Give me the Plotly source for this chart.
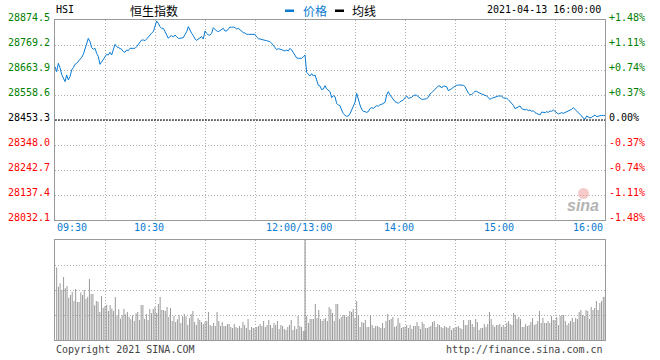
import numpy as np
import pandas as pd
import plotly.graph_objects as go

# ---------------- data ----------------
prev_close = 28453.3
y_ticks = [28874.5, 28769.2, 28663.9, 28558.6, 28453.3, 28348.0, 28242.7, 28137.4, 28032.1]
pct_ticks = ["+1.48%", "+1.11%", "+0.74%", "+0.37%", "0.00%", "-0.37%", "-0.74%", "-1.11%", "-1.48%"]
x_tick_labels = ["09:30", "10:30", "12:00/13:00", "14:00", "15:00", "16:00"]
x_tick_times = [0, 60, 150, 210, 270, 330]   # trading minutes since open

# morning price, 09:30 .. 12:00 (one per minute)
price_am = [
    28678.0, 28656.9, 28692.0, 28673.8, 28645.7, 28626.0, 28614.8, 28642.9, 28621.8, 28635.9,
    28663.9, 28673.8, 28687.8, 28692.0, 28699.0, 28710.3, 28717.3, 28729.9, 28755.2, 28769.2,
    28797.3, 28783.3, 28758.0, 28751.0, 28755.2, 28734.1, 28720.1, 28687.8, 28699.0, 28713.1,
    28724.3, 28729.9, 28727.1, 28738.4, 28727.1, 28755.2, 28772.1, 28762.2, 28759.4, 28755.2,
    28751.0, 28741.2, 28738.4, 28748.2, 28745.4, 28755.2, 28755.2, 28753.8, 28755.2, 28762.2,
    28772.1, 28780.5, 28790.3, 28790.3, 28787.5, 28794.5, 28804.3, 28814.1, 28819.7, 28825.4,
    28853.4, 28870.3, 28860.5, 28846.4, 28839.4, 28839.4, 28825.4, 28811.3, 28797.3, 28805.7,
    28808.5, 28802.9, 28811.3, 28804.3, 28797.3, 28797.3, 28797.3, 28800.1, 28814.1, 28825.4,
    28846.4, 28828.2, 28818.3, 28808.5, 28794.5, 28788.9, 28794.5, 28797.3, 28804.3, 28794.5,
    28828.2, 28818.3, 28811.3, 28811.3, 28818.3, 28842.2, 28833.8, 28828.2, 28825.4, 28829.6,
    28833.8, 28839.4, 28828.2, 28828.2, 28836.6, 28845.0, 28843.6, 28845.0, 28842.2, 28836.6,
    28839.4, 28832.4, 28825.4, 28821.2, 28819.7, 28814.1, 28814.1, 28814.1, 28814.1, 28811.3,
    28814.1, 28802.9, 28795.9, 28794.5, 28791.7, 28790.3, 28788.9, 28787.5, 28784.7, 28783.3,
    28776.3, 28766.4, 28755.2, 28749.6, 28753.8, 28752.4, 28751.0, 28746.8, 28744.0, 28748.2,
    28744.0, 28755.2, 28748.2, 28735.5, 28724.3, 28714.5, 28713.1, 28713.1, 28713.1, 28720.1,
    28727.1,
]
# afternoon price, 13:01 .. 16:00 (one per minute)
price_pm = [
    28654.1, 28645.7, 28638.7, 28648.5, 28638.7, 28642.9, 28614.8, 28599.4, 28596.6, 28581.1,
    28583.9, 28598.0, 28583.9, 28579.7, 28572.7, 28547.4, 28555.8, 28551.6, 28523.5, 28516.5,
    28513.7, 28495.5, 28480.0, 28473.0, 28468.8, 28470.2, 28480.0, 28495.5, 28509.5, 28527.8,
    28565.7, 28537.6, 28516.5, 28498.3, 28489.8, 28488.4, 28485.6, 28488.4, 28501.1, 28505.3,
    28502.5, 28508.1, 28513.7, 28510.9, 28517.9, 28519.3, 28522.1, 28527.8, 28558.6, 28572.7,
    28558.6, 28547.4, 28537.6, 28530.6, 28527.8, 28523.5, 28530.6, 28533.4, 28537.6, 28547.4,
    28554.4, 28544.6, 28547.4, 28548.8, 28555.8, 28558.6, 28557.2, 28551.6, 28544.6, 28540.4,
    28540.4, 28541.8, 28543.2, 28548.8, 28562.9, 28568.5, 28575.5, 28583.9, 28589.5, 28596.6,
    28596.6, 28588.1, 28596.6, 28595.1, 28593.7, 28576.9, 28579.7, 28585.3, 28590.9, 28596.6,
    28599.4, 28600.8, 28599.4, 28599.4, 28599.4, 28593.7, 28579.7, 28565.7, 28560.0, 28560.0,
    28567.1, 28574.1, 28574.1, 28568.5, 28565.7, 28562.9, 28558.6, 28557.2, 28554.4, 28548.8,
    28540.4, 28544.6, 28547.4, 28551.6, 28551.6, 28554.4, 28554.4, 28554.4, 28546.0, 28544.6,
    28544.6, 28539.0, 28532.0, 28523.5, 28515.1, 28501.1, 28505.3, 28509.5, 28512.3, 28501.1,
    28498.3, 28495.5, 28498.3, 28492.7, 28495.5, 28489.8, 28492.7, 28484.2, 28481.4, 28478.6,
    28474.4, 28487.0, 28484.2, 28484.2, 28488.4, 28485.6, 28491.3, 28489.8, 28495.5, 28488.4,
    28481.4, 28478.6, 28481.4, 28484.2, 28481.4, 28484.2, 28488.4, 28492.7, 28495.5, 28498.3,
    28505.3, 28498.3, 28494.1, 28488.4, 28480.0, 28470.2, 28460.4, 28456.2, 28470.2, 28466.0,
    28461.8, 28464.6, 28470.2, 28474.4, 28467.4, 28470.2, 28473.0, 28473.0, 28471.6, 28473.0,
]

# volume (relative units)
vol_am = [
    2.9, 2.13, 2.27, 2.0, 2.52, 2.07, 2.16, 1.69, 1.8, 1.93, 1.56, 2.04, 1.52, 1.52, 1.9, 1.8,
    2.0, 1.65, 1.73, 2.44, 1.84, 1.84, 1.39, 1.56, 1.53, 1.12, 1.76, 1.29, 1.36, 1.41, 1.16,
    1.4, 1.25, 1.16, 1.72, 0.99, 1.23, 0.85, 0.99, 1.25, 1.03, 1.12, 0.93, 0.83, 0.99, 0.76,
    1.07, 1.12, 0.8, 1.4, 1.4, 0.84, 1.04, 0.8, 1.24, 1.07, 1.24, 1.32, 1.08, 1.44, 1.72, 1.2,
    1.2, 1.16, 1.32, 0.92, 1.28, 0.76, 0.96, 0.72, 0.83, 0.99, 0.68, 0.95, 1.04, 0.95, 0.6,
    0.87, 1.03, 1.16, 0.72, 0.6, 0.88, 0.8, 0.72, 0.64, 0.72, 0.76, 1.12, 0.6, 0.56, 0.68,
    0.56, 1.12, 0.76, 0.56, 0.72, 0.56, 0.56, 0.64, 0.64, 0.52, 0.48, 0.64, 0.52, 0.48, 0.56,
    0.48, 0.72, 0.6, 0.48, 0.84, 0.4, 0.52, 0.48, 0.48, 0.52, 0.56, 0.64, 0.56, 0.76, 0.52,
    0.6, 0.8, 0.6, 0.48, 0.68, 0.6, 0.76, 0.44, 0.6, 0.56, 0.44, 0.4, 0.52, 0.6, 0.8, 0.4,
    0.56, 0.44, 0.96, 0.56, 0.52, 0.36, 0.36,
]
vol_pm = [
    0.96, 0.68, 0.84, 0.84, 0.84, 1.44, 0.88, 1.2, 0.84, 0.76, 0.84, 0.88, 0.76, 1.32, 1.24,
    1.08, 0.76, 1.44, 1.44, 0.84, 0.92, 1.0, 1.0, 0.92, 0.96, 1.16, 1.12, 1.24, 0.88, 1.56,
    1.0, 0.52, 0.72, 0.68, 0.8, 0.52, 0.52, 1.0, 0.6, 0.48, 0.56, 0.56, 0.52, 0.48, 0.68,
    0.48, 0.76, 1.04, 0.8, 0.84, 0.92, 0.52, 0.56, 0.88, 0.68, 0.48, 0.52, 0.52, 0.6, 0.48,
    0.6, 0.44, 0.56, 0.56, 0.72, 0.56, 0.44, 0.72,
    0.64, 0.48, 0.48, 0.52, 0.56, 0.72, 0.76, 0.52, 0.64, 0.6, 0.52, 0.48, 0.56, 0.52, 0.48,
    0.56, 0.4, 0.48, 0.48, 0.52, 0.56, 0.48, 0.44, 0.8, 0.6, 0.6, 0.8, 0.8, 0.64, 0.52, 0.84,
    0.72, 0.4, 0.48, 0.48, 0.64, 0.52, 0.64, 1.12, 0.84, 0.6, 0.52, 0.6, 0.6, 0.64, 0.52, 0.6,
    0.52, 0.68, 0.76, 0.64, 0.6, 1.08, 1.0, 0.84, 0.92, 0.84, 0.52, 0.52, 0.64, 0.56, 0.6,
    0.72, 0.88, 0.6, 0.64, 0.76, 1.16, 0.68, 0.88, 0.68, 0.68, 0.76, 0.68, 0.96, 0.8, 0.8,
    0.92, 0.6, 0.96, 1.0, 1.0, 0.76, 0.6, 0.68, 0.76, 0.88, 0.72, 0.88, 0.84, 1.12, 1.2, 1.0,
    0.96, 1.2, 1.16, 0.84, 1.32, 1.2, 1.28, 1.56, 1.2, 1.48, 1.56, 1.72, 1.73,
]

# ---------------- time axis (trading minutes, lunch break removed) ----------------
am_times = pd.date_range("2021-04-13 09:30", "2021-04-13 12:00", freq="min")
pm_times = pd.date_range("2021-04-13 13:01", "2021-04-13 16:00", freq="min")
open_am = pd.Timestamp("2021-04-13 09:30")
open_pm = pd.Timestamp("2021-04-13 13:00")
am_x = ((am_times - open_am).total_seconds() / 60).to_numpy()
pm_x = 150 + ((pm_times - open_pm).total_seconds() / 60).to_numpy()
x_price = np.concatenate([am_x, pm_x])
y_price = price_am + price_pm

# volume bars spread over each session's minutes
vol_am_x = np.linspace(am_x[1], am_x[-1], len(vol_am))
vol_pm_x = np.linspace(pm_x[0], pm_x[-1], len(vol_pm))

FONT = "DejaVu Sans Mono"
GRID = "#b0b0b0"
FRAME = "#9a9a9a"
BLUE = "#0a7bd2"
GREEN = "#008000"
RED = "#ff0000"

W, H = 660, 360
def px(x):
    return x / W
def py(y):
    return 1 - y / H

fig = go.Figure()
fig.add_trace(go.Scatter(x=x_price, y=y_price, mode="lines",
                         line=dict(color=BLUE, width=1), xaxis="x", yaxis="y",
                         hoverinfo="skip"))
fig.add_trace(go.Bar(x=np.concatenate([vol_am_x, vol_pm_x]), y=vol_am + vol_pm,
                     width=0.6, marker=dict(color="#999999", line=dict(width=0)),
                     xaxis="x2", yaxis="y2", hoverinfo="skip"))

axis_common = dict(showline=True, mirror=True, linecolor=FRAME, linewidth=1,
                   showgrid=True, gridcolor=GRID, griddash="1px,2px", gridwidth=1,
                   zeroline=False, showticklabels=False, ticks="", fixedrange=True)

fig.update_layout(
    width=W, height=H, margin=dict(l=0, r=0, t=0, b=0),
    paper_bgcolor="white", plot_bgcolor="white", showlegend=False,
    xaxis=dict(domain=[px(55), px(605)], range=[0, 330], tick0=0, dtick=30,
               anchor="y", **axis_common),
    yaxis=dict(domain=[py(220), py(20)], range=[y_ticks[-1], y_ticks[0]],
               tickvals=y_ticks, anchor="x", **axis_common),
    xaxis2=dict(domain=[px(55), px(605)], range=[0, 330], tick0=0, dtick=30,
                anchor="y2", **axis_common),
    yaxis2=dict(domain=[py(340), py(240)], range=[0, 4], tickvals=[1, 2, 3],
                anchor="x2", **axis_common),
)

shapes = []
# previous-close dashed line
shapes.append(dict(type="line", xref="x", yref="y", x0=0, x1=330, y0=prev_close, y1=prev_close,
                   line=dict(color="black", width=1, dash="2px,1px")))
# lunch break separator in the volume panel
shapes.append(dict(type="line", xref="x2", yref="y2 domain", x0=150, x1=150, y0=0, y1=1,
                   line=dict(color="#8c8c8c", width=1)))
# legend markers
shapes.append(dict(type="rect", xref="paper", yref="paper", x0=px(285), x1=px(294),
                   y0=py(12), y1=py(9.5), fillcolor=BLUE, line=dict(width=0)))
shapes.append(dict(type="rect", xref="paper", yref="paper", x0=px(335), x1=px(344),
                   y0=py(12), y1=py(9.5), fillcolor="black", line=dict(width=0)))
# watermark eye
shapes.append(dict(type="circle", xref="paper", yref="paper", x0=px(578), x1=px(589),
                   y0=py(199), y1=py(188), fillcolor="rgba(240,150,150,0.5)", line=dict(width=0)))
fig.update_layout(shapes=shapes)

ann = []
def txt(text, x, y, xanchor="left", yanchor="middle", color="black", size=10, family=FONT, **kw):
    ann.append(dict(text=text, x=x, y=y, xref="paper", yref="paper", xanchor=xanchor,
                    yanchor=yanchor, showarrow=False, font=dict(family=family, size=size, color=color),
                    **kw))

for v, p in zip(y_ticks, pct_ticks):
    c = GREEN if v > prev_close + 1e-6 else (RED if v < prev_close - 1e-6 else "black")
    ann.append(dict(text=f"{v:.1f}", x=px(52), y=v, xref="paper", yref="y", xanchor="right",
                    yanchor="middle", yshift=3, showarrow=False,
                    font=dict(family=FONT, size=10, color=c)))
    ann.append(dict(text=p, x=px(607), y=v, xref="paper", yref="y", xanchor="left",
                    yanchor="middle", yshift=3, showarrow=False,
                    font=dict(family=FONT, size=10, color=c)))

for i, (lab, t) in enumerate(zip(x_tick_labels, x_tick_times)):
    if i == 0:
        xa, xs = "left", 0
    elif i == len(x_tick_labels) - 1:
        xa, xs = "right", 0
    else:
        xa, xs = "center", -6
    ann.append(dict(text=lab, x=t, y=py(227.5), xref="x", yref="paper", xanchor=xa,
                    yanchor="middle", xshift=xs, showarrow=False,
                    font=dict(family=FONT, size=10, color=BLUE)))

txt("HSI", px(54), py(9.5))
txt("恒生指数", px(154), py(10), xanchor="center", size=12, family="Noto Sans CJK SC")
txt("价格", px(301), py(10), size=12, color=BLUE, family="Noto Sans CJK SC")
txt("均线", px(350), py(10), size=12, family="Noto Sans CJK SC")
txt("2021-04-13 16:00:00", px(603), py(9.5), xanchor="right")
txt("Copyright 2021 SINA.COM", px(54), py(349.5), color="#444444")
txt("http://finance.sina.com.cn", px(605), py(349.5), xanchor="right", color="#444444")
ann.append(dict(text="sina", x=px(583), y=py(205), xref="paper", yref="paper", xanchor="center",
                yanchor="middle", showarrow=False,
                font=dict(family="Liberation Sans", size=16, color="#b4b4b4", weight="bold",
                          style="italic")))
fig.update_layout(annotations=ann)

fig.write_html("out.html", config={"displayModeBar": False, "staticPlot": True},
               post_script="document.body.style.margin='0';document.body.style.overflow='hidden';")
